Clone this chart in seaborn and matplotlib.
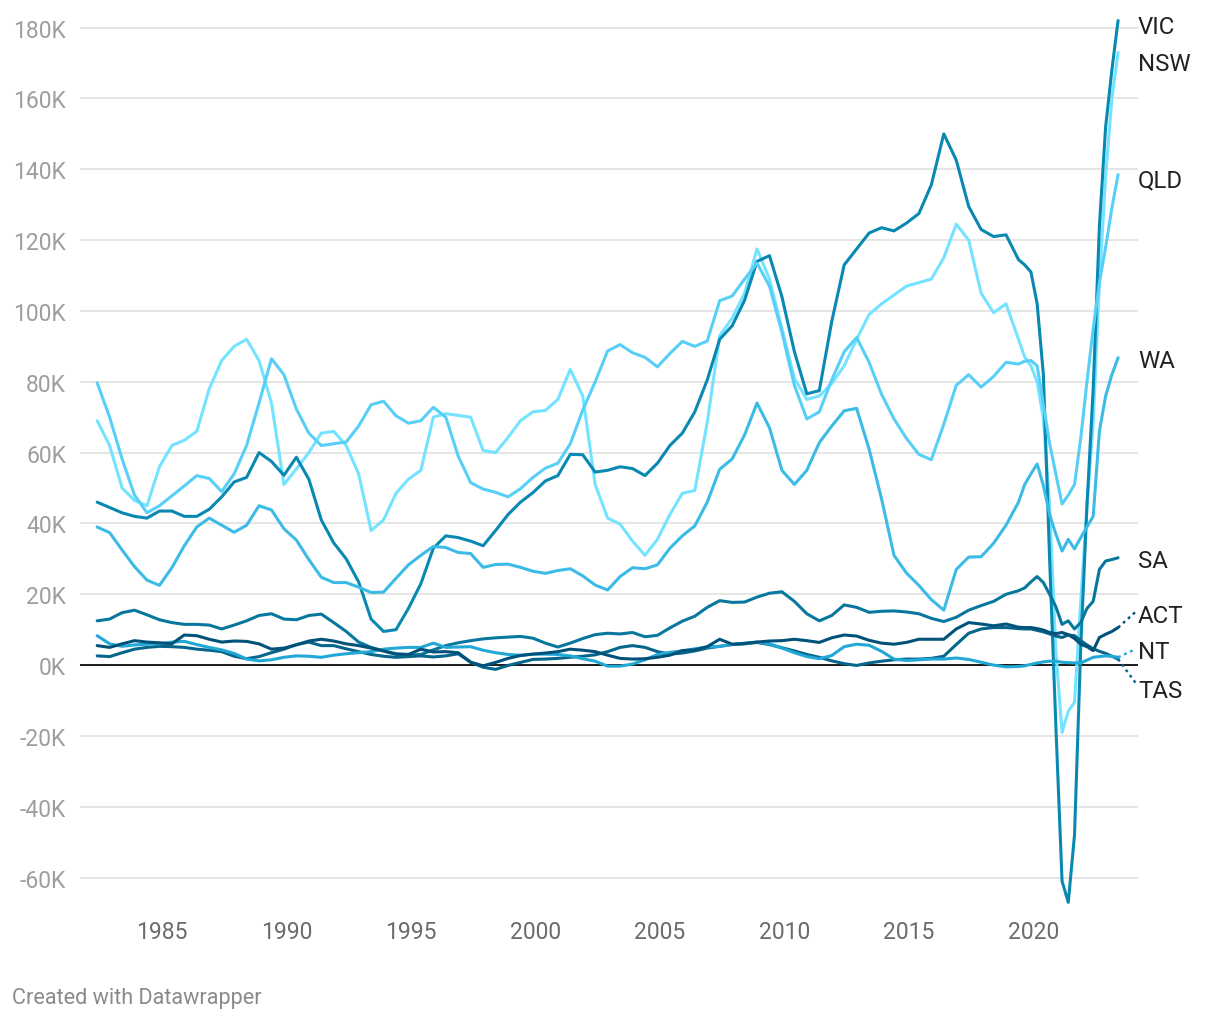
import numpy as np
import pandas as pd
import matplotlib
matplotlib.use("Agg")
import matplotlib.pyplot as plt
import seaborn as sns

# ------------------------------------------------------------
# data: annual population growth by state, thousands of people
# half-yearly readings up to 2018, quarterly from 2019 on
# ------------------------------------------------------------
years = list(np.round(np.arange(1982.4, 2019.0, 0.5), 2)) + \
        list(np.round(np.arange(2019.4, 2023.41, 0.25), 2))

nsw = [69, 62, 50, 46.5, 45, 56, 62, 63.5, 66, 78, 86, 90, 92, 86, 74, 51, 55.4, 60, 65.5, 66,
       62, 54, 38, 41, 48.5, 52.5, 55, 70, 71, 70.5, 70, 60.6, 60, 64.3, 69, 71.5, 71.9, 75, 83.5, 76,
       51, 41.5, 39.8, 35, 31, 35.5, 42.5, 48.5, 49.3, 68.5, 93, 98, 105, 117.5, 109, 95, 81, 75, 76, 79.5,
       84.5, 92, 99, 102, 104.5, 107, 108, 109, 115, 124.5, 120, 105, 99.5, 102,
       92, 87, 84.5, 80, 69.5, 45, 4, -19, -13, -10.5, 18, 45, 68, 108, 138, 160, 173]
vic = [46, 44.5, 43, 42, 41.5, 43.5, 43.5, 42, 42, 44, 47.5, 51.7, 53, 60, 57.5, 53.6, 58.7, 52.5, 41, 34.5,
       30, 23.5, 13, 9.5, 10, 16, 23, 33, 36.5, 36, 35, 33.7, 38, 42.5, 46, 48.7, 52, 53.5, 59.5, 59.4,
       54.5, 55, 56, 55.5, 53.5, 57, 62, 65.5, 71.5, 80.5, 92, 95.8, 103, 114, 115.6, 104, 88.5, 76.6, 77.5, 97,
       113, 117.5, 122, 123.5, 122.6, 124.8, 127.5, 135.6, 150, 142.6, 129.5, 123, 121, 121.5,
       114.5, 113, 111, 102, 82, 30, -17, -61, -67, -48, 5, 45, 78, 124, 152, 168, 182]
qld = [79.7, 70, 58.2, 48, 43, 45, 47.8, 50.6, 53.5, 52.7, 49, 54, 62, 74, 86.5, 82, 72.3, 65.5, 62, 62.5,
       63, 67.5, 73.5, 74.5, 70.4, 68.3, 69, 72.8, 70, 59, 51.5, 49.7, 48.8, 47.5, 49.8, 53, 55.6, 57, 62.5, 72,
       80, 88.7, 90.5, 88.2, 86.9, 84.2, 88, 91.4, 90, 91.5, 102.9, 104.2, 109, 113.5, 107, 94, 79, 69.5, 71.5, 80.5,
       88.5, 92.5, 85.5, 76.5, 69.5, 64, 59.5, 58, 68, 79, 82, 78.5, 81.5, 85.5,
       85, 85.8, 86, 84.5, 73.5, 62.6, 54, 45.5, 48, 51, 64, 80, 95, 108, 118, 129, 138.5]
wa = [39, 37.4, 32.5, 27.8, 24, 22.5, 27.5, 33.7, 39, 41.5, 39.5, 37.5, 39.5, 45, 43.8, 38.5, 35.3, 29.8, 24.8, 23.3,
      23.3, 22, 20.5, 20.6, 24.5, 28.3, 31, 33.5, 33.2, 31.8, 31.5, 27.6, 28.4, 28.5, 27.6, 26.5, 25.9, 26.7, 27.2, 25.2,
      22.6, 21.2, 25, 27.5, 27.2, 28.3, 33, 36.5, 39.3, 46, 55.3, 58.2, 65, 74, 67, 55, 51, 55, 62.8, 67.5,
      71.8, 72.5, 61, 47, 31, 26, 22.5, 18.5, 15.5, 27, 30.5, 30.6, 34.4, 39.5,
      46, 51, 54, 56.8, 50.7, 42.5, 37, 32.2, 35.5, 32.8, 36, 39, 42, 66, 76, 82, 86.8]
sa = [12.5, 13, 14.8, 15.5, 14.2, 12.8, 12, 11.5, 11.5, 11.3, 10.2, 11.3, 12.5, 14, 14.5, 13, 12.8, 14, 14.4, 12,
      9.5, 6.5, 5, 4, 3, 2.8, 3, 4.3, 5.5, 6.3, 6.9, 7.4, 7.7, 7.9, 8.1, 7.6, 6.2, 5.1, 6.2, 7.5,
      8.6, 9, 8.8, 9.2, 8, 8.4, 10.5, 12.4, 13.8, 16.3, 18.2, 17.7, 17.8, 19.2, 20.3, 20.7, 18, 14.5, 12.5, 14,
      17, 16.3, 14.9, 15.2, 15.3, 15, 14.5, 13.2, 12.3, 13.5, 15.5, 16.8, 18, 20,
      21, 21.8, 23.5, 25, 23.3, 20, 16.5, 11.5, 12.5, 10.2, 12, 16, 18, 27, 29.4, 29.8, 30.3]
act = [5.5, 5, 6, 6.9, 6.5, 6.3, 6, 8.5, 8.3, 7.3, 6.5, 6.8, 6.7, 6, 4.5, 4.8, 5.7, 6.8, 7.3, 6.8,
       6, 5.5, 4.8, 4, 3.2, 3, 4.5, 3.7, 3.8, 3.5, 0.8, -0.2, 0.75, 1.9, 2.7, 3.1, 3.4, 3.8, 4.5, 4.2,
       3.8, 2.8, 1.9, 1.7, 1.8, 2.2, 2.8, 4.1, 4.3, 5.2, 7.3, 5.9, 6.1, 6.5, 6.8, 6.9, 7.3, 6.9, 6.4, 7.7,
       8.5, 8.2, 7, 6.2, 5.9, 6.4, 7.3, 7.3, 7.3, 10.2, 12, 11.6, 11.1, 11.6,
       10.7, 10.6, 10.6, 10.3, 9.9, 9.2, 8.9, 9.2, 8.6, 7.5, 5.9, 5.2, 4.1, 7.8, 8.7, 9.5, 10.6]
tas = [2.6, 2.4, 3.5, 4.5, 5, 5.3, 5.2, 5, 4.5, 4.2, 3.8, 2.5, 1.8, 2.4, 3.5, 4.5, 5.8, 6.5, 5.5, 5.5,
       4.6, 3.8, 3, 2.5, 2.2, 2.4, 2.6, 2.3, 2.6, 3.2, 0.8, -0.6, -1.2, -0.1, 0.75, 1.6, 1.7, 1.9, 2.2, 2.5,
       2.9, 3.8, 5, 5.5, 5, 3.8, 3.1, 3.4, 4, 4.8, 5.3, 5.8, 6, 6.4, 5.8, 4.9, 4, 3, 2.2, 1.2,
       0.4, -0.1, 0.6, 1.1, 1.5, 1.7, 1.7, 1.9, 2.5, 5.8, 9, 10.2, 10.6, 10.6,
       10.3, 10.2, 10.2, 9.8, 9.4, 8.8, 8.2, 7.8, 8.5, 8.3, 6.9, 5.7, 4.6, 3.9, 3.3, 2.5, 1.7]
nt = [8.3, 6, 5.3, 5.7, 5.9, 6, 6.5, 6.7, 5.8, 5, 4.3, 3.3, 1.7, 1.2, 1.5, 2.2, 2.6, 2.5, 2.2, 2.8,
      3.2, 3.5, 3.8, 4.5, 4.8, 5, 5, 6.2, 5, 5.1, 5.2, 4.2, 3.5, 3, 2.8, 3.1, 3.1, 3, 2.6, 1.8,
      1.1, -0.3, -0.3, 0.3, 1.5, 3, 3.6, 4, 4.6, 5.1, 5.3, 5.8, 6.2, 6.5, 6, 4.8, 3.5, 2.4, 1.8, 2.7,
      5.2, 5.9, 5.6, 3.9, 1.7, 1.3, 1.5, 1.7, 1.7, 2, 1.6, 0.8, 0, -0.5,
      -0.4, -0.2, 0.2, 0.6, 0.9, 1.1, 1.1, 0.8, 0.7, 0.6, 0.6, 1.4, 2.2, 2.4, 2.6, 2.5, 2.2]

states = ["NSW", "VIC", "QLD", "SA", "WA", "TAS", "NT", "ACT"]
series = {"NSW": nsw, "VIC": vic, "QLD": qld, "SA": sa, "WA": wa, "TAS": tas, "NT": nt, "ACT": act}

y_ticks = [-60, -40, -20, 0, 20, 40, 60, 80, 100, 120, 140, 160, 180]
x_ticks = [1985, 1990, 1995, 2000, 2005, 2010, 2015, 2020]

# ------------------------------------------------------------
# styles / layout
# ------------------------------------------------------------
colors = {
    "NSW": "#74e3ff",
    "QLD": "#57cff7",
    "WA": "#3bbbe6",
    "NT": "#22a8d6",
    "VIC": "#0989b1",
    "SA": "#08779e",
    "TAS": "#05658b",
    "ACT": "#01527a",
}
# where the end labels sit (K) and where the dotted leaders stop
label_pos = {"VIC": 180.2, "NSW": 169.8, "QLD": 137, "WA": 86, "SA": 29.4,
             "ACT": 14, "NT": 3.7, "TAS": -7.3}
leader_end = {"ACT": 15, "NT": 4.5, "TAS": -5}

rows = []
for st in states:
    for yr, v in zip(years, series[st]):
        rows.append((st, yr, v))
df = pd.DataFrame(rows, columns=["state", "year", "value"])

sns.set_style("white")
plt.rcParams["font.family"] = ["Roboto", "DejaVu Sans"]

fig = plt.figure(figsize=(12.2, 10.2), dpi=100)
ax = fig.add_axes([80 / 1220, 106 / 1020, 1058 / 1220, 896 / 1020])

for yv in y_ticks:
    if yv != 0:
        ax.axhline(yv, color="#e5e5e5", lw=1.4, zorder=0)
ax.axhline(0, color="#1a1a1a", lw=1.4, zorder=1)

sns.lineplot(data=df, x="year", y="value", hue="state", hue_order=states,
             palette=colors, linewidth=2.2, legend=False, errorbar=None, ax=ax, zorder=3)

ax.set_xlim(1981.71, 2024.2)
ax.set_ylim(-70, 183)
ax.set_xticks(x_ticks)
ax.set_xticklabels([str(x) for x in x_ticks])
ax.set_yticks(y_ticks)
ax.set_yticklabels([f"{v}K" for v in y_ticks])
ax.tick_params(axis="y", length=0, pad=10, labelsize=16.5, labelcolor="#9e9e9e")
ax.tick_params(axis="x", length=0, pad=5, labelsize=16.5, labelcolor="#6b6b6b")
ax.set_xlabel("")
ax.set_ylabel("")
for s in ax.spines.values():
    s.set_visible(False)

# end labels and dotted leaders
last_year = years[-1]
for st in states:
    if st in leader_end:
        ax.plot([last_year, 2024.1], [series[st][-1], leader_end[st]],
                color=colors[st], lw=1.7, ls=(0, (1.2, 1.6)), clip_on=False, zorder=3)
    ax.text(2024.2, label_pos[st], st, fontsize=17.3, color="#222222",
            va="center", ha="left", clip_on=False)

fig.text(12 / 1220, 1 - 999 / 1020, "Created with Datawrapper", fontsize=15.6,
         color="#8a8a8a", va="center", ha="left")

fig.savefig("out.png", dpi=100, facecolor="white")
